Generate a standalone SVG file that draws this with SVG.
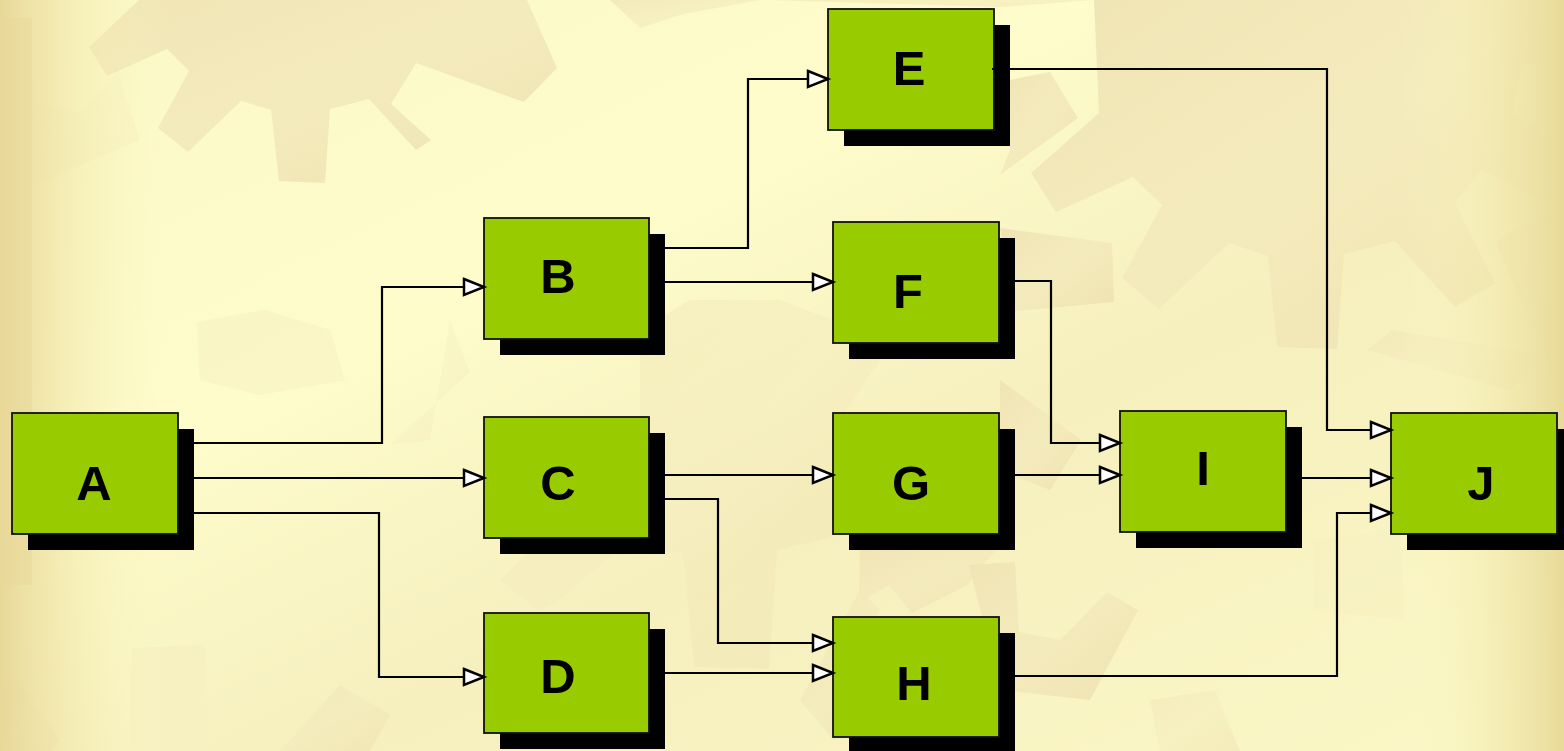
<svg xmlns="http://www.w3.org/2000/svg" width="1564" height="751" viewBox="0 0 1564 751">
  <defs>
    <linearGradient id="bgDiag" x1="0" y1="0" x2="1" y2="1">
      <stop offset="0" stop-color="#fbf8c6"/>
      <stop offset="0.35" stop-color="#fdfcca"/>
      <stop offset="0.6" stop-color="#f6efbe"/>
      <stop offset="1" stop-color="#fbf8c6"/>
    </linearGradient>
    <linearGradient id="edgeL" x1="0" y1="0" x2="1" y2="0">
      <stop offset="0" stop-color="#e8d898"/>
      <stop offset="1" stop-color="#fdfbc8" stop-opacity="0"/>
    </linearGradient>
    <linearGradient id="edgeR" x1="0" y1="0" x2="1" y2="0">
      <stop offset="0" stop-color="#fdfbc8" stop-opacity="0"/>
      <stop offset="1" stop-color="#e8da98"/>
    </linearGradient>
    <linearGradient id="gearG" x1="0" y1="0" x2="1" y2="1">
      <stop offset="0" stop-color="#f0e4b4"/>
      <stop offset="0.5" stop-color="#f4ebbc"/>
      <stop offset="1" stop-color="#efe2b0"/>
    </linearGradient>
    <marker id="arr" markerUnits="userSpaceOnUse" markerWidth="26" markerHeight="22" refX="22" refY="10" orient="auto">
      <path d="M2,2 L22,10 L2,18 Z" fill="#ffffff" stroke="#000000" stroke-width="2.5" stroke-linejoin="miter"/>
    </marker>
    <style>
      .gear { fill: url(#gearG); }
      .gearL { fill: #f7f0c0; }
      .box { fill: #99cc00; stroke: #111111; stroke-width: 1.8; }
      .shadow { fill: #000000; }
      .lbl { font-family: "Liberation Sans", Arial, sans-serif; font-weight: bold; font-size: 49px; fill: #000000; text-anchor: middle; }
      .conn { fill: none; stroke: #000000; stroke-width: 2.2; marker-end: url(#arr); }
    </style>
  </defs>

  <g id="background">
    <rect x="0" y="0" width="1564" height="751" fill="url(#bgDiag)"/>
    <path class="gear" d="M139,0 L89,47 L107,76 L167,49 L189,71 L158,128 L188,152 L241,101 L271,110 L279,181 L325,183 L330,109 L369,99 L416,150 L431,140 L391,104 L416,63 L524,102 L557,68 L527,0 Z"/>
    <path class="gear" d="M610,0 L640,28 L683,14 L760,0 Z" opacity="0.7"/>
    <path class="gear" d="M770,0 L1000,7 L1094,0 Z" opacity="0.6"/>
    <path class="gear" d="M1094,0 L1099,113 L1031,173 L1056,212 L1133,177 L1162,205 L1122,278 L1159,309 L1229,243 L1268,256 L1277,347 L1337,349 L1344,254 L1395,241 L1455,307 L1495,283 L1455,203 L1481,170 L1564,210 L1564,150 L1513,112 L1522,65 L1564,62 L1564,0 Z"/>
    <path class="gear" d="M1000,175 L1078,118 L1050,72 L1010,80 L1010,150 Z"/>
    <path class="gear" d="M1000,228 L1112,243 L1114,302 L1015,311 Z"/>
    <path class="gear" d="M1495,242 L1549,212 L1564,232 L1564,420 L1545,355 Z" opacity="0.9"/>
    <path class="gear" d="M1367,350 L1510,390 L1545,355 L1392,330 Z" opacity="0.5"/>
    <path class="gear" d="M0,20 L28,18 L34,102 L79,112 L118,72 L140,140 L0,200 Z" opacity="0.3"/>
    <rect x="0" y="18" width="32" height="567" fill="#e9db9e"/>
    <path class="gear" d="M640,330 L690,300 L780,300 L860,330 L880,360 L840,420 L848,533 L777,550 L769,669 L694,667 L683,552 L612,555 L557,602 L537,610 L500,580 L540,540 L600,480 L640,430 Z" opacity="0.5"/>
    <path class="gear" d="M860,545 L1000,545 L967,585 L912,613 L889,585 L859,603 Z"/>
    <path class="gear" d="M969,565 L1015,562 L1019,632 L1060,640 L1107,592 L1138,610 L1090,700 L1000,690 Z"/>
    <path class="gear" d="M860,590 L880,610 L850,660 L900,730 L833,740 L800,700 Z" opacity="0.8"/>
    <path class="gear" d="M1000,380 L1081,440 L1050,490 L1000,470 Z"/>
    <path class="gear" d="M0,690 L15,676 L60,740 L50,751 L0,751 Z" opacity="0.7"/>
    <path class="gearL" d="M132,648 L205,645 L210,751 L130,751 Z"/>
    <path class="gear" d="M280,751 L340,685 L390,715 L370,751 Z" opacity="0.7"/>
    <path class="gearL" d="M197,322 L265,310 L330,330 L345,380 L260,395 L200,380 Z" opacity="0.5"/>
    <path class="gear" d="M390,445 L470,372 L450,320 L430,440 Z" opacity="0.3"/>
    <path class="gear" d="M1150,700 L1215,690 L1240,751 L1160,751 Z" opacity="0.5"/>
    <path class="gearL" d="M1313,540 L1400,530 L1405,620 L1313,610 Z" opacity="0.6"/>
    <rect x="0" y="0" width="170" height="751" fill="url(#edgeL)"/>
    <rect x="1400" y="0" width="164" height="751" fill="url(#edgeR)"/>
  </g>

  <g id="node-A">
    <rect class="shadow" x="28" y="429" width="166" height="121"/>
    <rect class="box" x="12" y="413" width="166" height="121"/>
    <text class="lbl" x="94" y="500">A</text>
  </g>
  <g id="node-B">
    <rect class="shadow" x="500" y="234" width="165" height="121"/>
    <rect class="box" x="484" y="218" width="165" height="121"/>
    <text class="lbl" x="558" y="293">B</text>
  </g>
  <g id="node-C">
    <rect class="shadow" x="500" y="433" width="165" height="121"/>
    <rect class="box" x="484" y="417" width="165" height="121"/>
    <text class="lbl" x="558" y="500">C</text>
  </g>
  <g id="node-D">
    <rect class="shadow" x="500" y="629" width="165" height="120"/>
    <rect class="box" x="484" y="613" width="165" height="120"/>
    <text class="lbl" x="558" y="693">D</text>
  </g>
  <g id="node-E">
    <rect class="shadow" x="844" y="25" width="166" height="121"/>
    <rect class="box" x="828" y="9" width="166" height="121"/>
    <text class="lbl" x="909" y="85">E</text>
  </g>
  <g id="node-F">
    <rect class="shadow" x="849" y="238" width="166" height="121"/>
    <rect class="box" x="833" y="222" width="166" height="121"/>
    <text class="lbl" x="908" y="308">F</text>
  </g>
  <g id="node-G">
    <rect class="shadow" x="849" y="429" width="166" height="121"/>
    <rect class="box" x="833" y="413" width="166" height="121"/>
    <text class="lbl" x="911" y="500">G</text>
  </g>
  <g id="node-H">
    <rect class="shadow" x="849" y="633" width="166" height="120"/>
    <rect class="box" x="833" y="617" width="166" height="120"/>
    <text class="lbl" x="914" y="700">H</text>
  </g>
  <g id="node-I">
    <rect class="shadow" x="1136" y="427" width="166" height="121"/>
    <rect class="box" x="1120" y="411" width="166" height="121"/>
    <text class="lbl" x="1203" y="485">I</text>
  </g>
  <g id="node-J">
    <rect class="shadow" x="1407" y="429" width="166" height="121"/>
    <rect class="box" x="1391" y="413" width="166" height="121"/>
    <text class="lbl" x="1481" y="500">J</text>
  </g>

  <g id="connectors">
    <path class="conn" d="M194,443 H382 V287 H484"/>
    <path class="conn" d="M194,478 H484"/>
    <path class="conn" d="M194,513 H379 V677 H484"/>
    <path class="conn" d="M665,248 H748 V79 H828"/>
    <path class="conn" d="M665,282 H833"/>
    <path class="conn" d="M665,475 H833"/>
    <path class="conn" d="M665,499 H718 V643 H833"/>
    <path class="conn" d="M665,673 H833"/>
    <path class="conn" d="M992,69 H1327 V430 H1391"/>
    <path class="conn" d="M1015,281 H1051 V443 H1120"/>
    <path class="conn" d="M1015,475 H1120"/>
    <path class="conn" d="M1302,478 H1391"/>
    <path class="conn" d="M1015,676 H1337 V513 H1391"/>
  </g>
</svg>
